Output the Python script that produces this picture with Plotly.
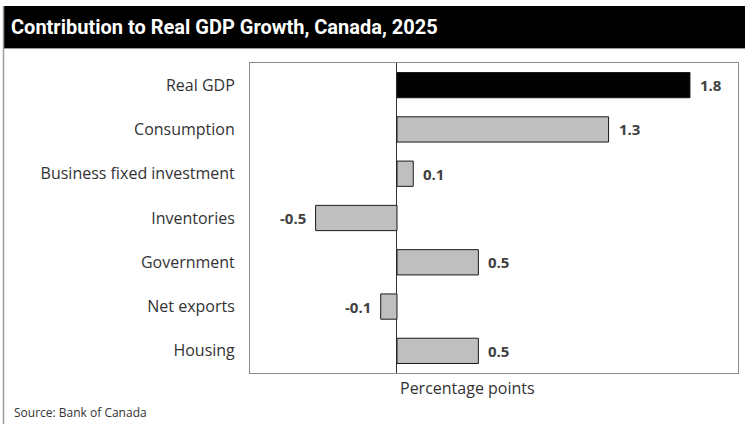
import plotly.graph_objects as go

categories = ["Real GDP", "Consumption", "Business fixed investment", "Inventories",
              "Government", "Net exports", "Housing"]
values = [1.8, 1.3, 0.1, -0.5, 0.5, -0.1, 0.5]
bar_colors = ["#000000"] + ["#bfbfbf"] * 6
value_labels = ["1.8", "1.3", "0.1", "-0.5", "0.5", "-0.1", "0.5"]

W, H = 745, 424
L, R, T, B = 250, 7, 63, 51
pw, ph = W - L - R, H - T - B

def px(x):
    return (x - L) / pw

def py(y):
    return (H - B - y) / ph

fig = go.Figure()
fig.add_trace(go.Bar(
    x=values, y=categories, orientation="h",
    marker=dict(color=bar_colors, line=dict(color="#1a1a1a", width=1)),
    width=0.57,
    hoverinfo="skip",
))

annotations = []
for cat, v, lab in zip(categories, values, value_labels):
    annotations.append(dict(
        x=v, y=cat, xref="x", yref="y", text="<b>%s</b>" % lab, showarrow=False,
        xanchor="left" if v >= 0 else "right", yanchor="middle",
        xshift=8 if v >= 0 else -8,
        font=dict(family="Open Sans", size=15, color="#404040"),
    ))

annotations += [
    dict(text="<b>Contribution to Real GDP Growth, Canada, 2025</b>",
         xref="paper", yref="paper", x=px(9), y=py(27),
         xanchor="left", yanchor="middle", showarrow=False,
         font=dict(family="Liberation Sans Narrow, Roboto", size=20, color="white")),
    dict(text="Percentage points",
         xref="paper", yref="paper", x=px(467), y=py(388),
         xanchor="center", yanchor="middle", showarrow=False,
         font=dict(family="Open Sans", size=16, color="#333333")),
    dict(text="Source: Bank of Canada",
         xref="paper", yref="paper", x=px(12), y=py(412),
         xanchor="left", yanchor="middle", showarrow=False,
         font=dict(family="Open Sans", size=12, color="#333333")),
]

fig.update_layout(
    width=W, height=H,
    margin=dict(l=L, r=R, t=T, b=B, pad=0),
    paper_bgcolor="white", plot_bgcolor="white",
    showlegend=False,
    font=dict(family="Open Sans", color="#333333"),
    xaxis=dict(range=[-0.903, 2.095], showticklabels=False, showgrid=False,
               zeroline=True, zerolinecolor="#333333", zerolinewidth=1,
               ticks="", showline=True, mirror=True, linecolor="#8c8c8c", linewidth=1),
    yaxis=dict(autorange="reversed", showgrid=False, zeroline=False,
               showline=True, mirror=True, linecolor="#8c8c8c", linewidth=1,
               ticks="", ticklabelstandoff=11,
               tickfont=dict(size=16, color="#333333")),
    shapes=[
        dict(type="rect", xref="paper", yref="paper",
             x0=px(3), x1=px(746), y0=py(48), y1=py(6),
             fillcolor="#000000", line=dict(width=0), layer="above"),
        dict(type="line", xref="paper", yref="paper",
             x0=px(3.5), x1=px(3.5), y0=py(6), y1=py(425),
             line=dict(color="#9a9a9a", width=1.5)),
        dict(type="line", xref="paper", yref="paper",
             x0=px(3), x1=px(746), y0=py(48.5), y1=py(48.5),
             line=dict(color="#9a9a9a", width=1)),
    ],
    annotations=annotations,
)

fig.write_html("out.html")
